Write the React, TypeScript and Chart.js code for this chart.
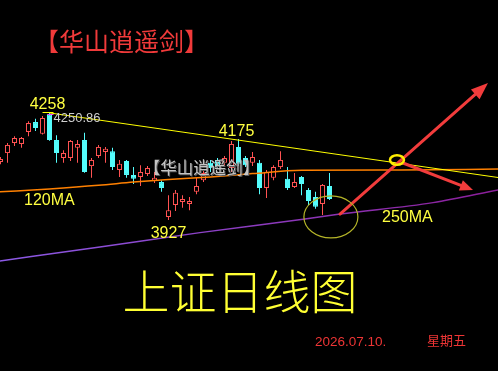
import React, { useEffect, useRef } from "react";
import { Chart, registerables } from "chart.js";

Chart.register(...registerables);

// ---- candle data (Shanghai index, daily) ----
const opens = [4105, 4132, 4163, 4160, 4197, 4227, 4191, 4250.86, 4172, 4117, 4117, 4148, 4172, 4092, 4123, 4135, 4138, 4080, 4108, 4065, 4059, 4068, 4046, 4043, 3936, 3973, 3982, 3976, 4013, 4049, 4102, 4111, 4102, 4086, 4151, 4117, 4102, 4102, 4025, 4056, 4089, 4053, 4028, 4059, 4019, 3997, 3976, 4031];
const highs = [4120, 4163, 4184, 4181, 4230, 4237, 4246, 4258, 4187, 4141, 4172, 4172, 4194, 4117, 4157, 4151, 4148, 4111, 4111, 4089, 4095, 4092, 4074, 4049, 4003, 4019, 4003, 3997, 4056, 4080, 4111, 4117, 4123, 4169, 4175, 4123, 4135, 4111, 4080, 4095, 4138, 4089, 4071, 4062, 4025, 4013, 4037, 4071];
const lows = [4098, 4102, 4154, 4148, 4184, 4200, 4189, 4170, 4102, 4102, 4108, 4102, 4072, 4056, 4117, 4102, 4080, 4059, 4056, 4037, 4031, 4062, 4040, 4013, 3927, 3954, 3964, 3957, 4006, 4043, 4074, 4086, 4095, 4074, 4092, 4089, 4092, 4006, 3994, 4049, 4083, 4019, 4025, 4003, 3973, 3961, 3942, 3988];
const closes = [4114, 4157, 4178, 4178, 4224, 4209, 4240, 4172, 4132, 4132, 4169, 4160, 4074, 4111, 4151, 4145, 4089, 4099, 4065, 4053, 4074, 4086, 4056, 4025, 3957, 4010, 3991, 3985, 4031, 4071, 4086, 4092, 4117, 4160, 4099, 4095, 4120, 4025, 4074, 4089, 4111, 4025, 4043, 4037, 3985, 3967, 4034, 3991];

// ---- moving averages (index position, value) ----
const ma120X = [-0.1, 7, 14, 19, 24, 30, 36, 43, 57, 71.1];
const ma120Y = [4013, 4022, 4033, 4043, 4051, 4059, 4069, 4079, 4080, 4083];
const ma250X = [-0.1, 14.2, 28.5, 43.5, 48.5, 61.8, 71.1];
const ma250Y = [3801, 3844, 3888, 3930, 3945, 3980, 4019];

// ---- trend line from the 4258 top ----
const trendX = [7.07, 71.1];
const trendY = [4255, 4057];

// ---- annotations (index position, value) ----
const arrowUpFrom = [48.5, 3945];
const arrowUpTo = [69.64, 4347];
const arrowDownFrom = [57.5, 4101.6];
const arrowDownTo = [67.5, 4018.7];
const ringAt = [56.64, 4110.8];
const bigRingAt = [47.2, 3936];

// ---- labels ----
const highLabel = "4258";
const openLabel = "4250.86";
const midHighLabel = "4175";
const lowLabel = "3927";
const titleText = "【华山逍遥剑】";
const watermarkText = "【华山逍遥剑】";
const bigText = "上证日线图";
const dateText = "2026.07.10.";
const weekText = "星期五";

const X_MIN = -0.5 / 7;
const X_MAX = (498 - 0.5) / 7;
const Y_MIN = 3463.5;
const Y_MAX = 4601.6;

const UP = "#ff5252";
const DOWN = "#54fcfc";
const CJK = '"Noto Sans CJK SC", "Noto Sans CJK JP", sans-serif';
const LAT = '"Liberation Sans", Arial, sans-serif';

function drawArrow(ctx: CanvasRenderingContext2D, x1: number, y1: number, x2: number, y2: number, headLen: number, headW: number, width: number, color: string) {
  const ang = Math.atan2(y2 - y1, x2 - x1);
  const bx = x2 - headLen * Math.cos(ang);
  const by = y2 - headLen * Math.sin(ang);
  ctx.save();
  ctx.strokeStyle = color;
  ctx.fillStyle = color;
  ctx.lineWidth = width;
  ctx.lineCap = "round";
  ctx.beginPath();
  ctx.moveTo(x1, y1);
  ctx.lineTo(bx, by);
  ctx.stroke();
  ctx.beginPath();
  ctx.moveTo(x2, y2);
  ctx.lineTo(bx + (headW / 2) * Math.sin(ang), by - (headW / 2) * Math.cos(ang));
  ctx.lineTo(bx - (headW / 2) * Math.sin(ang), by + (headW / 2) * Math.cos(ang));
  ctx.closePath();
  ctx.fill();
  ctx.restore();
}

const overlayPlugin = {
  id: "overlay",
  beforeDraw(chart: any) {
    const ctx = chart.ctx;
    ctx.save();
    ctx.fillStyle = "#000";
    ctx.fillRect(0, 0, chart.width, chart.height);
    ctx.restore();
  },
  afterDatasetsDraw(chart: any) {
    const ctx: CanvasRenderingContext2D = chart.ctx;
    const xs = chart.scales.x;
    const ys = chart.scales.y;
    const px = (v: number) => xs.getPixelForValue(v);
    const py = (v: number) => ys.getPixelForValue(v);
    ctx.save();

    // small markers at the top candle
    const topI = 7;
    ctx.lineWidth = 1;
    ctx.strokeStyle = "#ffff00";
    ctx.beginPath();
    ctx.moveTo(px(topI) - 7, Math.round(py(highs[topI])) + 0.5);
    ctx.lineTo(px(topI) + 4, Math.round(py(highs[topI])) + 0.5);
    ctx.stroke();
    ctx.strokeStyle = "#ff40ff";
    ctx.beginPath();
    ctx.moveTo(px(topI) - 2, Math.round(py(opens[topI])) + 0.5);
    ctx.lineTo(px(topI) + 4, Math.round(py(opens[topI])) + 0.5);
    ctx.stroke();

    // watermark
    ctx.font = `16.5px ${CJK}`;
    ctx.textAlign = "center";
    ctx.textBaseline = "middle";
    ctx.fillStyle = "#5a5a5a";
    ctx.fillText(watermarkText, 202.5, 169);
    ctx.fillStyle = "#c4c4c4";
    ctx.fillText(watermarkText, 201.5, 168);

    // price labels
    ctx.textBaseline = "alphabetic";
    ctx.font = `16px ${LAT}`;
    ctx.fillStyle = "#ffff40";
    ctx.textAlign = "center";
    ctx.fillText(highLabel, px(topI) - 2, py(highs[topI]) - 3.5);
    ctx.fillText(midHighLabel, px(34) - 2, py(highs[34]) - 3);
    ctx.fillText(lowLabel, px(24), py(lows[24]) + 18);
    ctx.textAlign = "left";
    ctx.fillText("120MA", 24, 205);
    ctx.fillText("250MA", 382, 222);

    ctx.font = `13px ${LAT}`;
    ctx.fillStyle = "#cfcfcf";
    ctx.fillText(openLabel, px(topI) + 4, py(opens[topI]) + 8);

    // annotations
    drawArrow(ctx, px(arrowUpFrom[0]), py(arrowUpFrom[1]), px(arrowUpTo[0]), py(arrowUpTo[1]), 17, 13, 3, "#f23c3c");
    drawArrow(ctx, px(arrowDownFrom[0]), py(arrowDownFrom[1]), px(arrowDownTo[0]), py(arrowDownTo[1]), 13, 11, 3, "#f23c3c");

    ctx.strokeStyle = "#b4b428";
    ctx.lineWidth = 1.2;
    ctx.beginPath();
    ctx.ellipse(px(bigRingAt[0]), py(bigRingAt[1]), 27, 21, 0, 0, Math.PI * 2);
    ctx.stroke();

    ctx.strokeStyle = "#ffee00";
    ctx.lineWidth = 2.5;
    ctx.beginPath();
    ctx.ellipse(px(ringAt[0]), py(ringAt[1]), 7, 4.8, 0, 0, Math.PI * 2);
    ctx.stroke();

    // titles
    ctx.textAlign = "center";
    ctx.textBaseline = "middle";
    ctx.font = `25px ${CJK}`;
    ctx.fillStyle = "#f03a3a";
    ctx.fillText(titleText, 121.5, 41.5);

    ctx.font = `300 47px ${CJK}`;
    ctx.fillStyle = "#ffff33";
    ctx.fillText(bigText, 240, 291.5);

    ctx.textAlign = "left";
    ctx.textBaseline = "alphabetic";
    ctx.font = `13.5px ${LAT}`;
    ctx.fillStyle = "#ee3535";
    ctx.fillText(dateText, 315, 346);
    ctx.textBaseline = "middle";
    ctx.font = `13px ${CJK}`;
    ctx.fillText(weekText, 427, 340.5);

    ctx.restore();
  },
};

export default function App() {
  const ref = useRef<HTMLCanvasElement | null>(null);

  useEffect(() => {
    document.body.style.margin = "0";
    document.body.style.background = "#000";
    const canvas = ref.current;
    if (!canvas) return;

    const isUp = opens.map((o, i) => closes[i] >= o);
    const wickData = highs.map((h, i) => ({ x: i, y: [lows[i], h] }));
    const bodyData = opens.map((o, i) => ({ x: i, y: [o, closes[i]] }));
    const line = (xa: number[], ya: number[]) => xa.map((x, i) => ({ x, y: ya[i] }));

    const chart = new Chart(canvas, {
      type: "bar",
      data: {
        datasets: [
          {
            type: "line",
            data: line(trendX, trendY),
            borderColor: "#ffff00",
            borderWidth: 1,
            pointRadius: 0,
            order: 1,
          } as any,
          {
            type: "line",
            data: line(ma120X, ma120Y),
            borderColor: "#ff8000",
            borderWidth: 1.5,
            pointRadius: 0,
            tension: 0.3,
            cubicInterpolationMode: "monotone",
            order: 2,
          } as any,
          {
            type: "line",
            data: line(ma250X, ma250Y),
            borderColor: (c: any) => {
              const ca = c.chart.chartArea;
              if (!ca) return "#9040c0";
              const g = c.chart.ctx.createLinearGradient(ca.left, 0, ca.right, 0);
              g.addColorStop(0, "#8c5ae6");
              g.addColorStop(1, "#8c1e9a");
              return g;
            },
            borderWidth: 1.5,
            pointRadius: 0,
            tension: 0.3,
            cubicInterpolationMode: "monotone",
            order: 3,
          } as any,
          {
            type: "bar",
            data: bodyData,
            backgroundColor: isUp.map((u) => (u ? "#000000" : DOWN)),
            borderColor: isUp.map((u) => (u ? UP : DOWN)),
            borderWidth: 1,
            borderSkipped: false,
            barThickness: 5,
            grouped: false,
            inflateAmount: 0,
            order: 4,
          } as any,
          {
            type: "bar",
            data: wickData,
            backgroundColor: isUp.map((u) => (u ? UP : DOWN)),
            borderWidth: 0,
            barThickness: 1,
            grouped: false,
            inflateAmount: 0,
            order: 5,
          } as any,
        ],
      },
      options: {
        responsive: false,
        maintainAspectRatio: false,
        devicePixelRatio: 1,
        animation: false,
        layout: { padding: 0 },
        plugins: { legend: { display: false }, tooltip: { enabled: false } },
        scales: {
          x: { type: "linear", display: false, min: X_MIN, max: X_MAX, offset: false, grid: { display: false } },
          y: { type: "linear", display: false, min: Y_MIN, max: Y_MAX, beginAtZero: false, grid: { display: false } },
        },
      } as any,
      plugins: [overlayPlugin],
    });
    return () => chart.destroy();
  }, []);

  return (
    <div style={{ width: 498, height: 371, background: "#000" }}>
      <canvas ref={ref} width={498} height={371} style={{ display: "block", width: 498, height: 371 }} />
    </div>
  );
}
